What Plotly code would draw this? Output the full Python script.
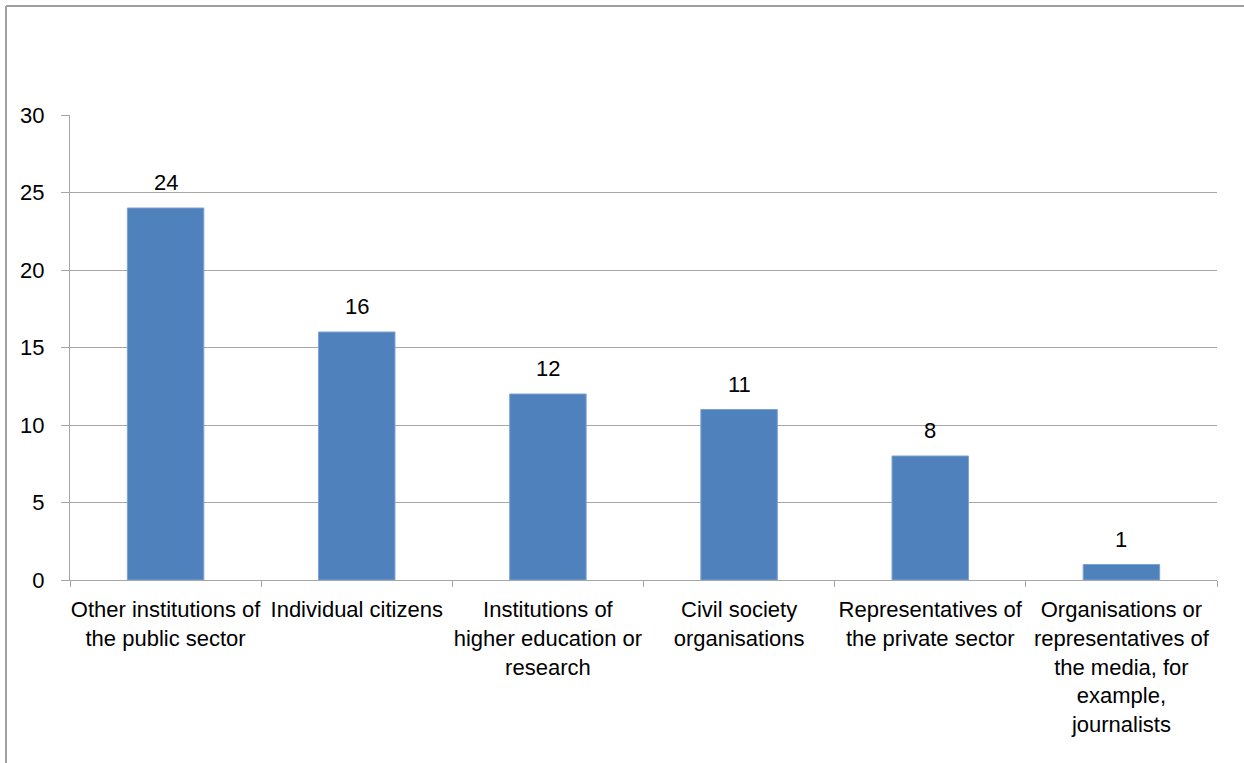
import plotly.graph_objects as go

categories = [
    "Other institutions of<br>the public sector",
    "Individual citizens",
    "Institutions of<br>higher education or<br>research",
    "Civil society<br>organisations",
    "Representatives of<br>the private sector",
    "Organisations or<br>representatives of<br>the media, for<br>example,<br>journalists",
]
values = [24, 16, 12, 11, 8, 1]
y_ticks = [0, 5, 10, 15, 20, 25, 30]

W, H = 1244, 763
ML, MR, MT, MB = 70, 27, 115, 183
FONT = "Liberation Sans, Arial, sans-serif"
GRID = "#a6a6a6"

fig = go.Figure(
    go.Bar(
        x=categories,
        y=values,
        width=0.4,
        marker=dict(color="#4f81bd", line=dict(color="#7ea2d2", width=1)),
        hoverinfo="skip",
    )
)

# value labels above each bar
for c, v in zip(categories, values):
    fig.add_annotation(
        x=c, y=v, text=str(v), showarrow=False, yanchor="bottom", yshift=11,
        font=dict(family=FONT, size=22, color="#000000"),
    )

# outer frame (left and top edges)
pw = W - ML - MR
ph = H - MT - MB
x0 = (6 - ML) / pw
y0 = 1 + (MT - 6) / ph
fig.add_shape(type="line", xref="paper", yref="paper", x0=x0, x1=x0, y0=-MB / ph, y1=y0,
              line=dict(color="#a0a0a0", width=2))
fig.add_shape(type="line", xref="paper", yref="paper", x0=x0, x1=(W - ML) / pw, y0=y0, y1=y0,
              line=dict(color="#a0a0a0", width=2))

fig.update_layout(
    width=W, height=H,
    margin=dict(l=ML, r=MR, t=MT, b=MB, autoexpand=False),
    paper_bgcolor="white", plot_bgcolor="white",
    showlegend=False,
    font=dict(family=FONT, size=22, color="#000000"),
    bargap=0.6,
)
fig.update_xaxes(
    showline=True, linecolor=GRID, linewidth=1,
    ticks="outside", tickson="boundaries", ticklen=6, tickcolor=GRID,
    ticklabelstandoff=10, tickangle=0, automargin=False,
    tickfont=dict(family=FONT, size=22, color="#000000"),
    showgrid=False,
)
fig.update_yaxes(
    range=[0, 30], tickvals=y_ticks,
    showgrid=True, gridcolor=GRID, gridwidth=1,
    showline=True, linecolor=GRID, linewidth=1,
    ticks="outside", ticklen=8, tickcolor=GRID,
    ticklabelstandoff=12, automargin=False,
    tickfont=dict(family=FONT, size=22, color="#000000"),
    zeroline=False,
)

fig.write_html("out.html")
